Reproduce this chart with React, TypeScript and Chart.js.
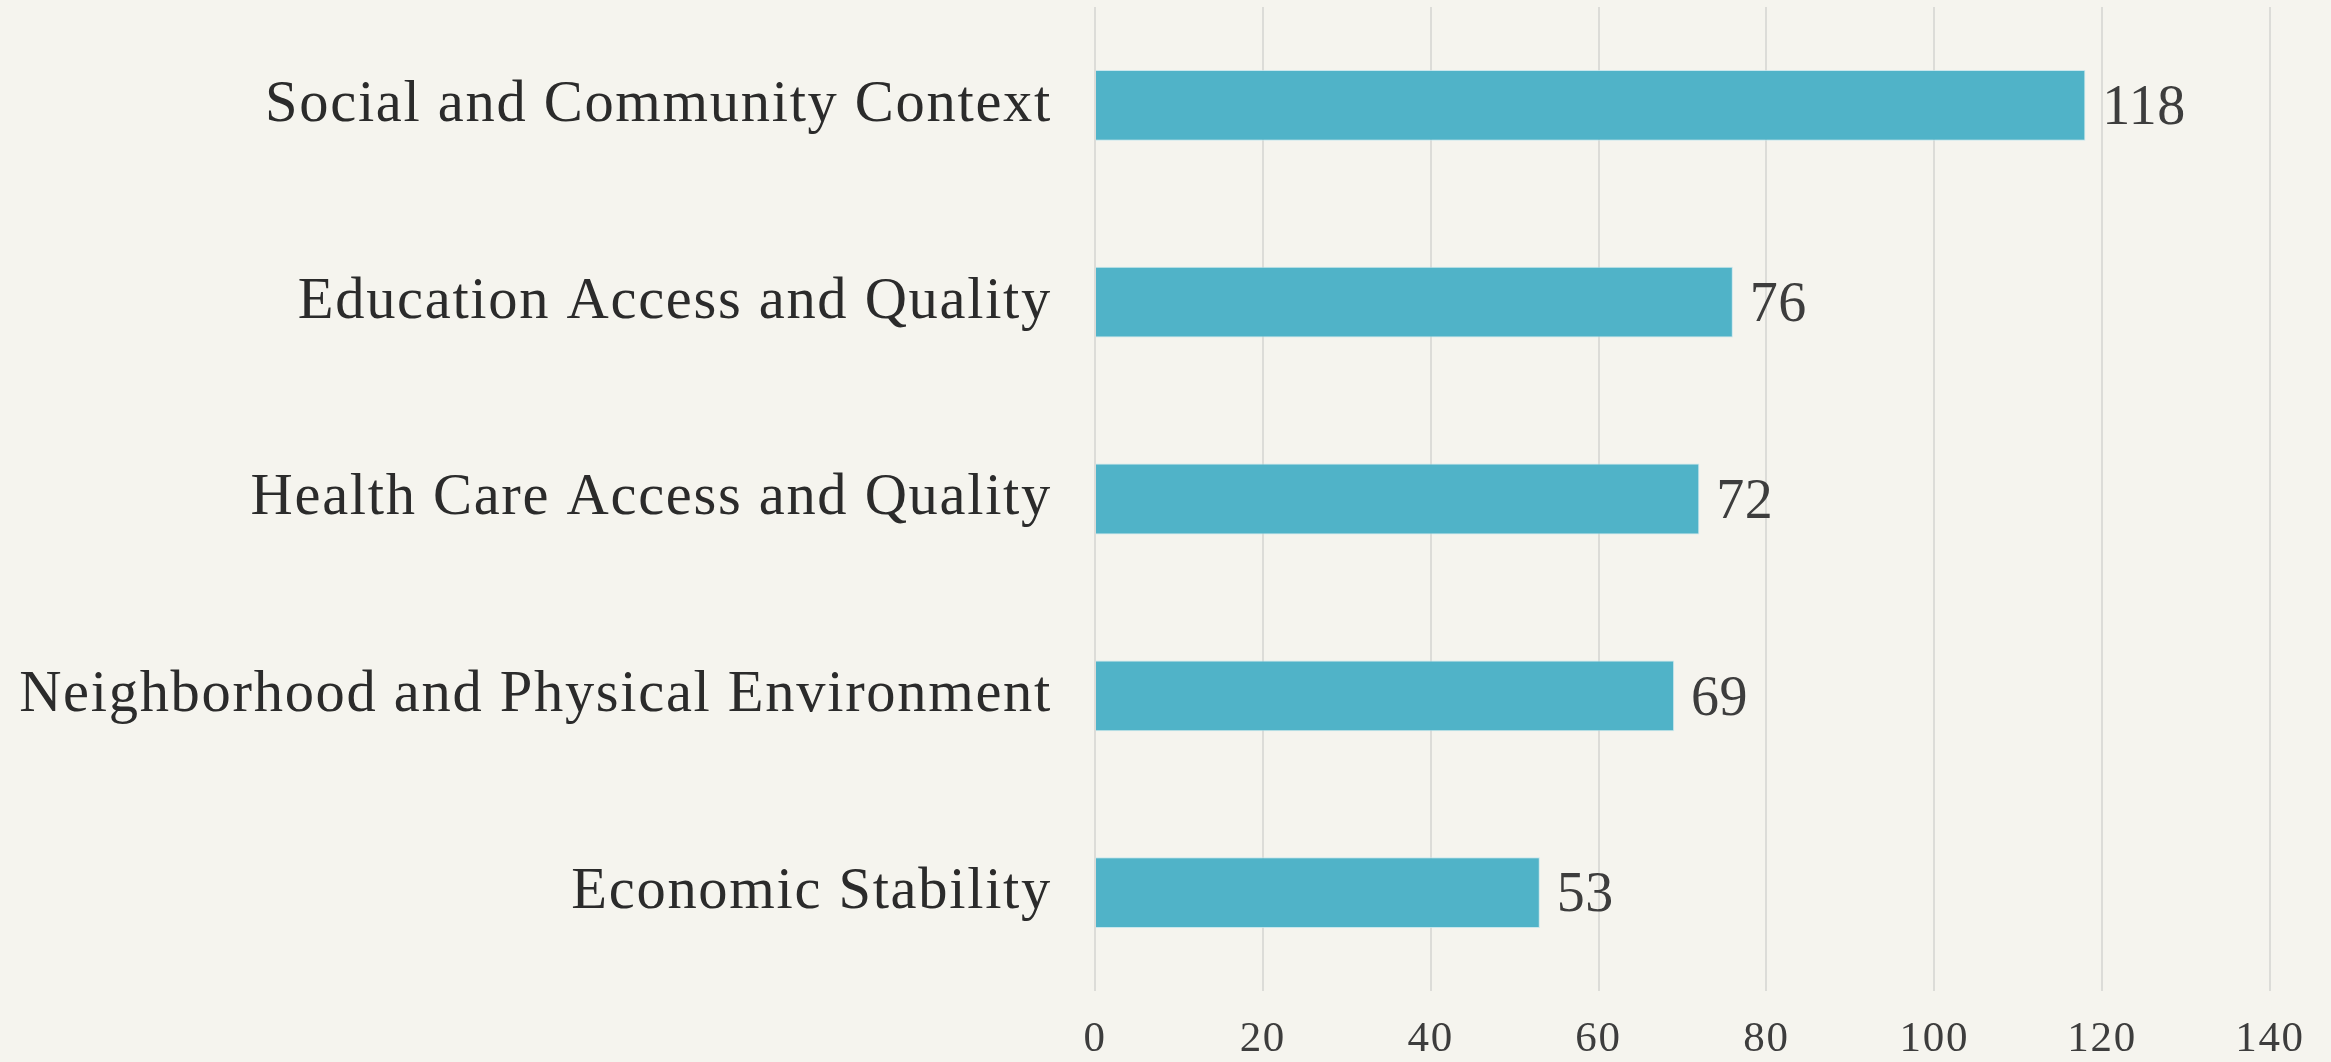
import React, { useEffect, useRef } from "react";
import { Chart, registerables } from "chart.js";

Chart.register(...registerables);

const categories = [
  "Social and Community Context",
  "Education Access and Quality",
  "Health Care Access and Quality",
  "Neighborhood and Physical Environment",
  "Economic Stability",
];
const counts = [118, 76, 72, 69, 53];
const xTicks = [0, 20, 40, 60, 80, 100, 120, 140];

const W = 2331;
const H = 1062;
const BG = "#F5F4EE";
const FONT = "'Liberation Serif', 'DejaVu Serif', serif";

export default function App() {
  const ref = useRef<HTMLCanvasElement | null>(null);

  useEffect(() => {
    document.body.style.margin = "0";
    document.body.style.background = BG;
    const canvas = ref.current;
    if (!canvas) return;

    const valueLabels = {
      id: "valueLabels",
      beforeDraw(chart: any) {
        const ctx = chart.ctx;
        ctx.letterSpacing = "1.7px";
        ctx.save();
        ctx.fillStyle = BG;
        ctx.fillRect(0, 0, chart.width, chart.height);
        ctx.restore();
      },
      afterDatasetsDraw(chart: any) {
        const ctx = chart.ctx;
        const meta = chart.getDatasetMeta(0);
        ctx.save();
        ctx.letterSpacing = "0.5px";
        ctx.font = `56px ${FONT}`;
        ctx.fillStyle = "#3d3d3d";
        ctx.textAlign = "left";
        ctx.textBaseline = "middle";
        meta.data.forEach((bar: any, i: number) => {
          ctx.fillText(String(counts[i]), bar.x + 17, bar.y + 4);
        });
        ctx.restore();
      },
    };

    const chart = new Chart(canvas, {
      type: "bar",
      data: {
        labels: categories,
        datasets: [
          {
            data: counts,
            backgroundColor: "#50B3C8",
            borderColor: "rgba(190,228,236,0.8)",
            borderWidth: 1,
            barPercentage: 0.6,
            categoryPercentage: 0.6,
          },
        ],
      },
      options: {
        indexAxis: "y",
        responsive: false,
        animation: false,
        devicePixelRatio: 1,
        layout: { padding: { top: 7, right: 61, left: 0, bottom: 0 } },
        plugins: {
          legend: { display: false },
          tooltip: { enabled: false },
          title: { display: false },
        },
        scales: {
          x: {
            type: "linear",
            min: 0,
            max: 140,
            afterBuildTicks(scale: any) {
              scale.ticks = xTicks.map((v) => ({ value: v }));
            },
            afterFit(scale: any) {
              scale.height = 71;
              scale.paddingLeft = 0;
              scale.paddingRight = 0;
            },
            grid: {
              color: "#dcdcd8",
              lineWidth: 2,
              drawTicks: false,
            },
            border: { display: false },
            ticks: {
              padding: 23,
              color: "#3d3d3d",
              font: { family: FONT, size: 43 },
            },
          },
          y: {
            afterFit(scale: any) {
              scale.width = 1095;
              scale.paddingTop = 0;
              scale.paddingBottom = 0;
            },
            grid: { display: false, drawTicks: false },
            border: { display: false },
            ticks: {
              padding: 43,
              color: "#2b2b2b",
              font: { family: FONT, size: 58.5 },
            },
          },
        },
      },
      plugins: [valueLabels],
    });

    return () => chart.destroy();
  }, []);

  return (
    <div style={{ width: W, height: H, background: BG }}>
      <canvas ref={ref} width={W} height={H} style={{ display: "block" }} />
    </div>
  );
}
